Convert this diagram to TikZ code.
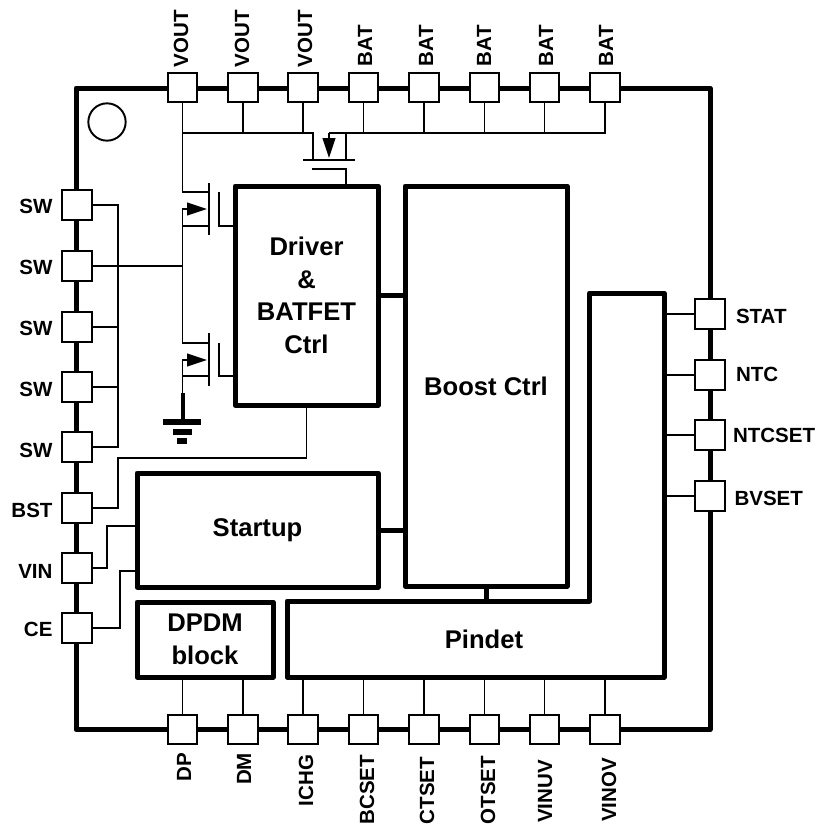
\documentclass[tikz,border=0pt]{standalone}
\usepackage{fontspec}
\setmainfont{Liberation Sans}
\usetikzlibrary{arrows.meta}
\tikzset{
  pad/.style={draw=black,fill=white,line width=1.5pt,minimum size=22.2pt,inner sep=0pt,outer sep=0pt},
  block/.style={draw=black,line width=3.75pt,line join=round,inner sep=0pt,outer sep=0pt,align=center,font=\fontsize{19.2}{24.5}\selectfont\bfseries},
  blocktext/.style={inner sep=0pt,outer sep=0pt,font=\fontsize{19.2}{24.5}\selectfont\bfseries},
  pintext/.style={inner sep=0pt,outer sep=0pt,font=\fontsize{15.4}{18}\selectfont\bfseries},
  wire/.style={draw=black,line width=1.45pt,line join=miter},
  thickwire/.style={draw=black,line width=3.75pt,line join=round},
  fet/.style={wire,-{Triangle[length=15pt,width=9.5pt]}},
  groundbar/.style={draw=black,line width=4.4pt}
}
\begin{document}
\begin{tikzpicture}[x=0.75pt,y=-0.75pt]
\useasboundingbox (0,0) rectangle (820,829);
% package outline
\draw[thickwire,line join=round] (76,88) rectangle (710,729.5);
\node[draw=black,line width=1.45pt,circle,minimum size=28pt,inner sep=0pt] (dot) at (107,122) {};
% blocks
\node[block,minimum width=107.25pt,minimum height=164.25pt] (driver) at (306.5,295.5) {Driver\\\&\\BATFET\\Ctrl};
\node[block,minimum width=121.5pt,minimum height=300pt] (boost) at (486,386) {Boost Ctrl};
\node[block,minimum width=180.75pt,minimum height=85.5pt] (startup) at (257.5,530) {Startup};
\node[block,minimum width=102pt,minimum height=56.25pt] (dpdm) at (205,639.5) {DPDM\\block};
\coordinate (pinTL) at (287,601);
\coordinate (pinIn) at (589.5,601);
\coordinate (pinTop) at (589.5,293);
\coordinate (pinTR) at (664,293);
\coordinate (pinBR) at (664,677);
\coordinate (pinBL) at (287,677);
\draw[thickwire] (pinTL) -- (pinIn) -- (pinTop) -- (pinTR) -- (pinBR) -- (pinBL) -- cycle;
\node[blocktext,anchor=base] (pindet) at (484,648) {Pindet};
% block links
\draw[thickwire] (driver.east) -- (driver.east -| boost.west);
\draw[thickwire] (startup.east) -- (startup.east -| boost.west);
\draw[thickwire] (boost.south) -- (boost.south |- pinTL);
% pads: top
\foreach \n/\x/\bx/\by/\txt in {1/182.5/188/67/VOUT,2/243/249/67/VOUT,3/303/312/67/VOUT,4/363.5/372/66/BAT,5/424/433/66/BAT,6/484.5/491/66/BAT,7/544.5/553/66/BAT,8/605/613/66/BAT}{
  \node[pad] (t\n) at (\x,87.5) {};
  \node[pintext,rotate=90,anchor=base west] (tl\n) at (\bx,\by) {\txt};
}
% pads: bottom
\foreach \n/\x/\bx/\by/\txt in {1/182.5/191/753/DP,2/243/251/753/DM,3/303/313/755/ICHG,4/363.5/374/755/BCSET,5/424/434/757/CTSET,6/484.5/495/756/OTSET,7/544.5/552/760/VINUV,8/605/616/758/VINOV}{
  \node[pad] (b\n) at (\x,729.5) {};
  \node[pintext,rotate=90,anchor=base east] (bl\n) at (\bx,\by) {\txt};
}
% pads: left
\foreach \n/\y/\by/\txt in {1/205/213/SW,2/266/274/SW,3/327/335/SW,4/387/396/SW,5/447/457/SW,6/508/517/BST,7/568/578/VIN,8/628/636/CE}{
  \node[pad] (l\n) at (77,\y) {};
  \node[pintext,anchor=base east] (ll\n) at (52.5,\by) {\txt};
}
% pads: right
\foreach \n/\y/\bx/\by/\txt in {1/314/736/323/STAT,2/375/736/381/NTC,3/435/733/442/NTCSET,4/496/734.5/505/BVSET}{
  \node[pad] (r\n) at (710,\y) {};
  \node[pintext,anchor=base west] (rl\n) at (\bx,\by) {\txt};
}
% right pad connectors
\foreach \n in {1,2,3,4}{ \draw[wire] (r\n.west) -- (r\n.west -| pinBR); }
% bottom pad connectors
\foreach \n in {1,2}{ \draw[wire] (b\n.north) -- (b\n.north |- dpdm.south); }
\foreach \n in {3,...,8}{ \draw[wire] (b\n.north) -- (b\n.north |- pinBL); }
% SW bus
\coordinate (swbus) at (118,205);
\draw[wire] (l1.east) -- (swbus) -- (swbus |- l5.east) -- (l5.east);
\draw[wire] (l3.east) -- (l3.east -| swbus);
\draw[wire] (l4.east) -- (l4.east -| swbus);
% BST, VIN, CE
\coordinate (bstc) at (118,458);
\draw[wire] (l6.east) -| (bstc) -| (driver.south);
\coordinate (vinc) at (107,526);
\draw[wire] (l7.east) -| (vinc) -- (vinc -| startup.west);
\coordinate (cec) at (120,571);
\draw[wire] (l8.east) -| (cec) -- (cec -| startup.west);
% top rail VOUT
\coordinate (rail) at (182.5,133);
\coordinate (pd) at (313,133);
\coordinate (pdCh) at (313,160);
\draw[wire] (t1.south) -- (rail) -- (pd) -- (pdCh);
\draw[wire] (t2.south) -- (t2.south |- rail);
\draw[wire] (t3.south) -- (t3.south |- rail);
% top rail BAT
\coordinate (ps) at (346,133);
\coordinate (psCh) at (346,160);
\coordinate (psArrow) at (329,133);
\coordinate (psTip) at (329,158);
\draw[wire] (t8.south) -- (t8.south |- ps) -- (psArrow);
\draw[fet] (psArrow) -- (psTip);
\draw[wire] (ps) -- (psCh);
\foreach \n in {4,5,6,7}{ \draw[wire] (t\n.south) -- (t\n.south |- ps); }
% BATFET channel and gate
\coordinate (pg) at (346,169);
\draw[wire] (303,160) -- (355,160);
\draw[wire] (312,169) -- (pg) -- (pg |- driver.north);
% high side FET
\coordinate (hd) at (182.5,192);
\coordinate (hs) at (182.5,226);
\coordinate (ld) at (182.5,343);
\coordinate (ls) at (182.5,376);
\coordinate (gnd) at (182.5,393);
\coordinate (swn) at (182.5,266);
\coordinate (hg) at (219,226);
\coordinate (lg) at (219,376);
\draw[wire] (t1.south) -- (hd) -- (209,192);
\draw[wire] (209,183) -- (209,235);
\draw[wire] (hs) -- (209,226);
\draw[fet] (hs) -- (182.5,209) -- (207,209);
\draw[wire] (219,192) -- (hg) -- (hg -| driver.west);
% low side FET
\draw[wire] (hs) -- (ld) -- (209,343);
\draw[wire] (209,333) -- (209,386);
\draw[wire] (ls) -- (209,376);
\draw[fet] (ls) -- (182.5,360) -- (207,360);
\draw[wire] (219,343) -- (lg) -- (lg -| driver.west);
% SW to FET junction
\draw[wire] (l2.east) -- (l2.east -| swn);
% ground
\draw[wire] (ls) -- (gnd);
\draw[draw=black,line width=3pt] (gnd) -- (182.5,422);
\draw[groundbar] (163,422) -- (201,422);
\draw[groundbar] (173,432) -- (192,432);
\draw[groundbar] (177,441) -- (187,441);
\end{tikzpicture}
\end{document}
